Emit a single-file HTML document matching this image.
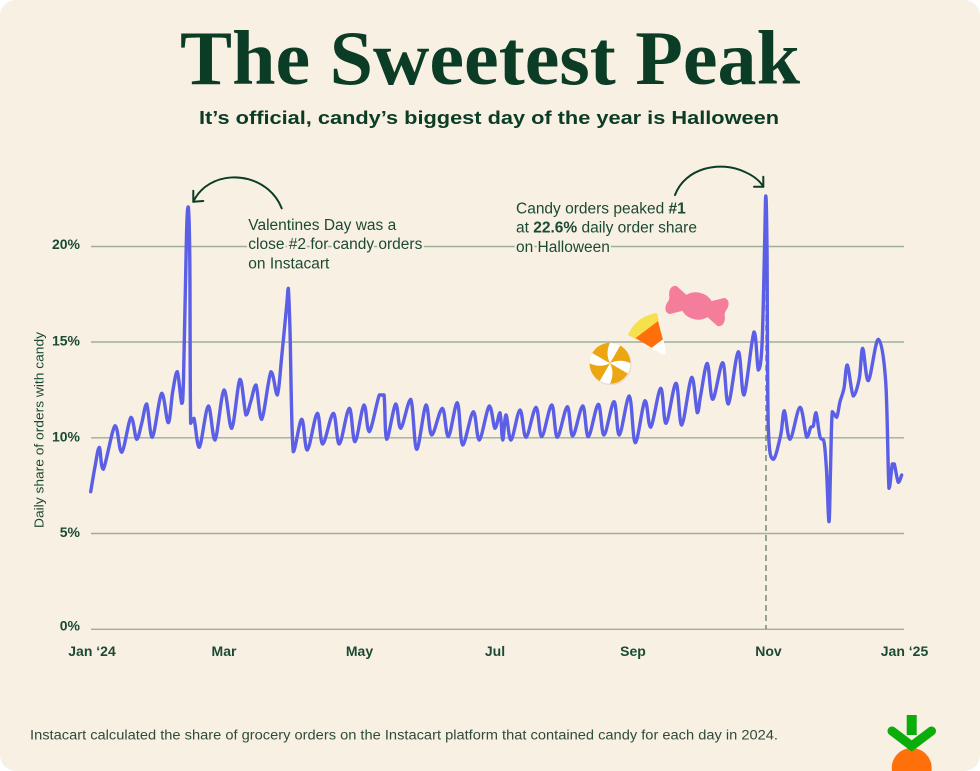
<!DOCTYPE html>
<html>
<head>
<meta charset="utf-8">
<style>
html,body{margin:0;padding:0;background:#ffffff;}
svg{display:block;}
text{font-family:"Liberation Sans",sans-serif;}
</style>
</head>
<body>
<svg width="980" height="771" viewBox="0 0 980 771" xmlns="http://www.w3.org/2000/svg">
  <rect x="0" y="0" width="980" height="771" rx="16" ry="16" fill="#F9F0E4"/>

  <!-- Title -->
  <text x="490" y="84" text-anchor="middle" font-weight="bold" font-size="77" fill="#0B3C25" textLength="620" lengthAdjust="spacingAndGlyphs" style="font-family:'Liberation Serif',serif">The Sweetest Peak</text>
  <text x="489" y="124" text-anchor="middle" font-weight="bold" font-size="18" fill="#0B3C25" textLength="580" lengthAdjust="spacingAndGlyphs">It’s official, candy’s biggest day of the year is Halloween</text>

  <!-- Gridlines -->
  <g stroke="#9DAF9B" stroke-width="1.4">
    <line x1="91" y1="246.5" x2="904" y2="246.5"/>
    <line x1="91" y1="342" x2="904" y2="342"/>
    <line x1="91" y1="437.8" x2="904" y2="437.8"/>
    <line x1="91" y1="533.5" x2="904" y2="533.5"/>
    <line x1="91" y1="629.3" x2="904" y2="629.3"/>
  </g>

  <!-- Y labels -->
  <g font-weight="bold" font-size="14" fill="#1B4A33" text-anchor="end">
    <text x="80" y="249">20%</text>
    <text x="80" y="345.5">15%</text>
    <text x="80" y="441.5">10%</text>
    <text x="80" y="537">5%</text>
    <text x="80" y="630.5">0%</text>
  </g>
  <text transform="translate(43.5,430) rotate(-90)" text-anchor="middle" font-size="13" fill="#1B4A33" textLength="196" lengthAdjust="spacingAndGlyphs">Daily share of orders with candy</text>

  <!-- X labels -->
  <g font-weight="bold" font-size="14" fill="#1B4A33" text-anchor="middle">
    <text x="92" y="656">Jan ‘24</text>
    <text x="224" y="656">Mar</text>
    <text x="359.5" y="656">May</text>
    <text x="495" y="656">Jul</text>
    <text x="633" y="656">Sep</text>
    <text x="768.5" y="656">Nov</text>
    <text x="904.5" y="656">Jan ‘25</text>
  </g>

  <!-- Dashed Halloween line -->
  <line x1="766" y1="205" x2="766" y2="629" stroke="#6E826E" stroke-width="1.4" stroke-dasharray="6,4"/>

  <!-- Annotations -->
  <g font-size="15.5" fill="#1B4A33" stroke="#F9F0E4" stroke-width="4" paint-order="stroke" stroke-linejoin="round">
    <text x="248.3" y="230">Valentines Day was a</text>
    <text x="248.3" y="249">close #2 for candy orders</text>
    <text x="248.3" y="268.3">on Instacart</text>
    <text x="516" y="213.3">Candy orders peaked <tspan font-weight="bold">#1</tspan></text>
    <text x="516" y="232.7">at <tspan font-weight="bold">22.6%</tspan> daily order share</text>
    <text x="516" y="252">on Halloween</text>
  </g>

  <!-- Arrows -->
  <g fill="none" stroke="#0B3C25" stroke-width="2" stroke-linecap="round" stroke-linejoin="round">
    <path d="M281.7,208.3 C270,178 230,168 205,187 C200,191 196,196 193.3,201.7"/>
    <path d="M193.3,190.7 L193.3,201.7 L203.3,201"/>
    <path d="M675,195 C685,168 720,160 745,172 C754,176 760,181 763.3,186.7"/>
    <path d="M763.3,176.7 L763.3,186.7 L754,186.7"/>
  </g>

  <!-- Candies -->
  <!-- peppermint -->
  <g transform="translate(610,363.3)">
    <circle cx="0.8" cy="1.2" r="20.8" fill="#E3D8C6" opacity="0.7"/>
    <circle cx="0" cy="0" r="20.5" fill="#EBA612"/>
    <g fill="#FFFFFF">
      <path d="M0,0 Q10,-5 20.5,0 A20.5,20.5 0 0 1 17.7,10.2 Q7,4 0,0 Z"/>
      <path d="M0,0 Q10,-5 20.5,0 A20.5,20.5 0 0 1 17.7,10.2 Q7,4 0,0 Z" transform="rotate(90)"/>
      <path d="M0,0 Q10,-5 20.5,0 A20.5,20.5 0 0 1 17.7,10.2 Q7,4 0,0 Z" transform="rotate(180)"/>
      <path d="M0,0 Q10,-5 20.5,0 A20.5,20.5 0 0 1 17.7,10.2 Q7,4 0,0 Z" transform="rotate(270)"/>
    </g>
  </g>
  <!-- candy corn -->
  <g transform="translate(641,322) rotate(-37)">
    <path d="M-17,3 Q0,-6 17,3 L13.5,10 L-13.5,10 Z" fill="#F6E04C" stroke="#F6E04C" stroke-width="2" stroke-linejoin="round"/>
    <path d="M-13.5,10 L13.5,10 L6,28 L-6,28 Z" fill="#FF6F0C" stroke="#FF6F0C" stroke-width="1" stroke-linejoin="round"/>
    <path d="M-6,28 L6,28 L1.5,38 Q0,40 -1.5,38 Z" fill="#FFFFFF" stroke="#FFFFFF" stroke-width="2" stroke-linejoin="round"/>
  </g>
  <!-- wrapped candy -->
  <g transform="translate(697,306) rotate(14)" fill="#F57D9C" stroke="#F57D9C" stroke-width="3" stroke-linejoin="round">
    <ellipse cx="0" cy="0" rx="15" ry="12"/>
    <path d="M-10,-5 L-25,-13 Q-30,-12 -28.5,-5 Q-26,0 -28.5,5 Q-30,12 -25,13 L-10,5 Z"/>
    <path d="M10,-5 L25,-13 Q30,-12 28.5,-5 Q26,0 28.5,5 Q30,12 25,13 L10,5 Z"/>
  </g>

  <!-- Data line -->
  <polyline id="dl" fill="none" stroke="#5B5FE6" stroke-width="3.4" stroke-linejoin="round" stroke-linecap="round" points="
90.7,491.7 95,466.7 99.3,447.3 103.3,469.3 115,425.7 121.7,452.3 131,417.3 136.7,439.3 141.7,423.3 146.7,404
152.3,437.3 161.7,393.3 168.3,422.7 172.7,391.7 177.3,371.7 181.7,403.3 183.5,380 186.5,235 188.3,207 189.8,260
190.7,423.3 194,418.3 199.3,447.3 208.3,406 215,440 224,390 231.7,428.3 240,379.3 246,415 250.7,401.7
256,385 261.7,419.3 271,371.7 277.3,395 281.7,356.7 286.7,305 288.3,288.3 290,330 293.3,451.7 301.7,419.3
307.3,450 317.3,413.3 322.7,444 333.3,413.3 339.3,444 349.3,408.3 355,441.7 364,405 369.3,431.7 379.3,395
384,395 386.7,439.3 395.7,404 400.7,428.3 410.7,399.3 416.7,449.3 426,405 431.7,435 442.3,408.3 448.3,436.7
457.3,402.7 462.7,445 473.3,411.7 479.3,440 489.3,406 495,428.3 500,412.7 502.7,440 506,415 511,440
520,410 526,437.3 536,407.3 541.7,436.7 551.7,405 557.3,437.3 567.3,406.7 572.7,436 582.7,406 588.3,436.7
598.3,404.3 604,435 614,401.7 619.3,435 629.3,396 635.3,442.7 645,400.7 650.7,427.3 660.7,388.3 666,423.3
676,383.3 681.7,425 691.7,377.3 697.3,412.7 700.7,395 707.3,363.3 712.7,399.3 722.7,362.7 728.3,404 738.3,351.7
744,395 754,332 758.3,370 762,345 764.5,250 765.8,196 767,250 768.3,426.7 773.3,459.3 780.7,435
784.3,410.7 790,439.3 800,407.3 806.7,437.3 810.7,427.3 813.3,426 816,412.7 820,436.7 824,441.7 826.5,470
829,521.7 830.5,470 832.3,411.7 836.7,417.3 840,401.7 844,388.3 847.3,365 853.3,396 859.3,378.3 862.7,348.3
868.3,380.7 878.3,339.3 885.7,381.7 889,488.3 892.3,464 894.3,464 898.3,482.3 901.7,475"/>

  <!-- Footer -->
  <text x="30" y="739.5" font-size="13.5" fill="#2E4A3A" textLength="748" lengthAdjust="spacingAndGlyphs">Instacart calculated the share of grocery orders on the Instacart platform that contained candy for each day in 2024.</text>

  <!-- Carrot logo -->
  <g>
    <circle cx="911.7" cy="768" r="20" fill="#FF700A"/>
    <rect x="906.7" y="715" width="10" height="20" fill="#0AAD0A"/>
    <path d="M892,731 L911.7,746 L931.5,731" fill="none" stroke="#0AAD0A" stroke-width="9" stroke-linecap="round" stroke-linejoin="miter"/>
  </g>
</svg>
<script>
(function(){
  try{
    var pl=document.getElementById('dl');
    var raw=pl.getAttribute('points').trim().split(/\s+/);
    var p=raw.map(function(s){var a=s.split(',');return [parseFloat(a[0]),parseFloat(a[1])];});
    var d='M'+p[0][0]+','+p[0][1];
    for(var i=0;i<p.length-1;i++){
      var p0=p[i>0?i-1:i],p1=p[i],p2=p[i+1],p3=p[i+2<p.length?i+2:i+1];
      var c1x=p1[0]+(p2[0]-p0[0])/6,c1y=p1[1]+(p2[1]-p0[1])/6;
      var c2x=p2[0]-(p3[0]-p1[0])/6,c2y=p2[1]-(p3[1]-p1[1])/6;
      var lo=Math.min(p1[1],p2[1]),hi=Math.max(p1[1],p2[1]);
      c1y=Math.max(lo,Math.min(hi,c1y));c2y=Math.max(lo,Math.min(hi,c2y));
      var lx=Math.min(p1[0],p2[0]),hx=Math.max(p1[0],p2[0]);
      c1x=Math.max(lx,Math.min(hx,c1x));c2x=Math.max(lx,Math.min(hx,c2x));
      d+=' C'+c1x.toFixed(2)+','+c1y.toFixed(2)+' '+c2x.toFixed(2)+','+c2y.toFixed(2)+' '+p2[0]+','+p2[1];
    }
    var ns='http://www.w3.org/2000/svg';
    var path=document.createElementNS(ns,'path');
    path.setAttribute('d',d);
    ['fill','stroke','stroke-width','stroke-linejoin','stroke-linecap'].forEach(function(a){path.setAttribute(a,pl.getAttribute(a));});
    pl.parentNode.replaceChild(path,pl);
  }catch(e){}
})();
</script>
</body>
</html>
